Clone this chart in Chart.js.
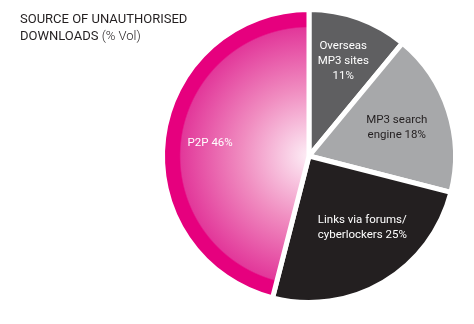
<!DOCTYPE html>
<html>
<head>
<meta charset="utf-8">
<script src="https://cdn.jsdelivr.net/npm/chart.js@4"></script>
<style>
  body { margin: 0; background: #fff; }
  #wrap { position: relative; width: 474px; height: 324px; }
  #title { position: absolute; left: 20px; top: 10px; font-family: Roboto, sans-serif; font-size: 13px; line-height: 17px; color: #231f20; }
  #title .unit { font-weight: 300; }
</style>
</head>
<body>
<div id="wrap">
  <canvas id="pie" width="474" height="324"></canvas>
  <div id="title">SOURCE OF UNAUTHORISED<br>DOWNLOADS <span class="unit">(% Vol)</span></div>
</div>
<script>
const labels = ['Overseas MP3 sites', 'MP3 search engine', 'Links via forums/cyberlockers', 'P2P'];
const shares = [11, 18, 25, 46];
const labelLines = [
  ['Overseas', 'MP3 sites', '11%'],
  ['MP3 search', 'engine 18%'],
  ['Links via forums/', 'cyberlockers 25%'],
  ['P2P 46%']
];
// label placement inside each slice: fraction of radius, angle nudge (deg)
const labelRadius = [0.69, 0.63, 0.61, 0.68];
const labelTurn = [0, 0, -6, 0];
const labelColors = ['#ffffff', '#231f20', '#ffffff', '#ffffff'];
const sliceColors = ['#5f5f61', '#a7a8aa', '#231f20', null];

function p2pFill(chart) {
  const area = chart.chartArea;
  if (!area) return '#e6007e';
  const cx = (area.left + area.right) / 2;
  const cy = (area.top + area.bottom) / 2;
  const r = Math.min(area.right - area.left, area.bottom - area.top) / 2;
  const g = chart.ctx.createRadialGradient(cx, cy, 0, cx, cy, r);
  g.addColorStop(0, '#fdeef6');
  g.addColorStop(0.45, '#f08cc0');
  g.addColorStop(0.86, '#e2389a');
  g.addColorStop(0.87, '#e6007e');
  g.addColorStop(1, '#e6007e');
  return g;
}

const sliceLabels = {
  id: 'sliceLabels',
  afterDatasetsDraw(chart) {
    const c = chart.ctx;
    const meta = chart.getDatasetMeta(0);
    c.save();
    c.font = '11.5px Roboto, sans-serif';
    c.textAlign = 'center';
    c.textBaseline = 'middle';
    meta.data.forEach((arc, i) => {
      const p = arc.getProps(['x', 'y', 'startAngle', 'endAngle', 'outerRadius'], true);
      const mid = (p.startAngle + p.endAngle) / 2 + labelTurn[i] * Math.PI / 180;
      const rr = p.outerRadius * labelRadius[i];
      const x = p.x + Math.cos(mid) * rr;
      const y = p.y + Math.sin(mid) * rr;
      const lines = labelLines[i];
      const lh = 15;
      c.fillStyle = labelColors[i];
      lines.forEach((t, k) => {
        c.fillText(t, x, y + (k - (lines.length - 1) / 2) * lh);
      });
    });
    c.restore();
  }
};

new Chart(document.getElementById('pie').getContext('2d'), {
  type: 'pie',
  data: {
    labels: labels,
    datasets: [{
      data: shares,
      backgroundColor: (ctx) => sliceColors[ctx.dataIndex] || p2pFill(ctx.chart),
      borderColor: '#ffffff',
      borderWidth: 5
    }]
  },
  options: {
    responsive: false,
    animation: false,
    layout: { padding: { left: 160, right: 16, top: 7, bottom: 19 } },
    plugins: { legend: { display: false }, tooltip: { enabled: false } }
  },
  plugins: [sliceLabels]
});
</script>
</body>
</html>
